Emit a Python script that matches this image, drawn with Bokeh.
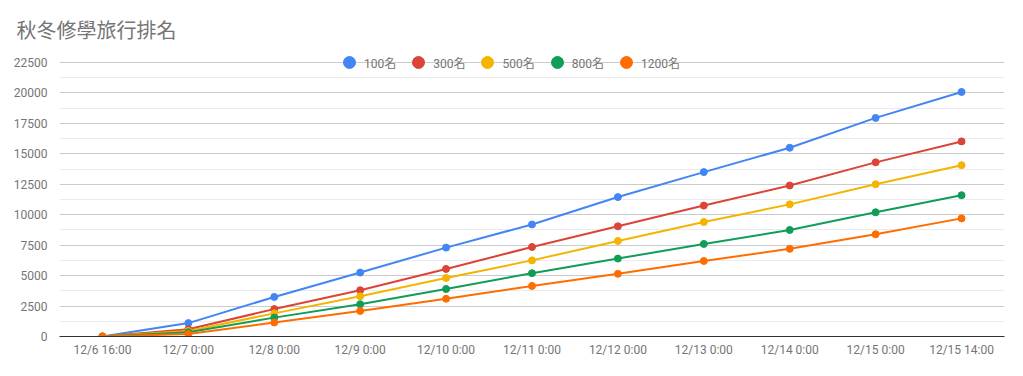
from bokeh.plotting import figure
from bokeh.models import (ColumnDataSource, FactorRange, Range1d, SingleIntervalTicker,
                          Legend, LegendItem)
from bokeh.embed import file_html
from bokeh.resources import INLINE

title_text = "秋冬修學旅行排名"
categories = ["12/6 16:00", "12/7 0:00", "12/8 0:00", "12/9 0:00", "12/10 0:00",
              "12/11 0:00", "12/12 0:00", "12/13 0:00", "12/14 0:00", "12/15 0:00",
              "12/15 14:00"]
series_names = ["100名", "300名", "500名", "800名", "1200名"]
rank_100 = [0, 1100, 3250, 5250, 7300, 9200, 11450, 13500, 15500, 17950, 20080]
rank_300 = [0, 600, 2250, 3800, 5550, 7350, 9050, 10750, 12400, 14300, 16020]
rank_500 = [0, 450, 1900, 3300, 4800, 6250, 7850, 9400, 10850, 12500, 14070]
rank_800 = [0, 350, 1550, 2650, 3900, 5200, 6400, 7600, 8750, 10200, 11600]
rank_1200 = [0, 200, 1150, 2100, 3100, 4150, 5150, 6200, 7200, 8400, 9700]
colors = ["#4285F4", "#DB4437", "#F4B400", "#0F9D58", "#FF6D01"]
y_max = 22500
y_step = 2500

series = [rank_100, rank_300, rank_500, rank_800, rank_1200]

FONT = "Roboto, 'Noto Sans CJK TC', sans-serif"
GRAY = "#757575"

# frame: 286px tall, with the 22500 gridline 274px above the baseline
y_top = y_max * 286 / 274

p = figure(width=1015, height=366, x_range=FactorRange(*categories, range_padding=0),
           y_range=Range1d(0, y_top), output_backend="svg", toolbar_location=None,
           min_border_left=59, min_border_right=11, min_border_top=50, min_border_bottom=30)
p.outline_line_color = None

p.title.text = title_text
p.title.text_font = "Noto Sans CJK TC"
p.title.text_font_size = "20px"
p.title.text_font_style = "normal"
p.title.text_color = GRAY
p.title.offset = -43
p.title.standoff = 14

renderers = []
for name, vals, c in zip(series_names, series, colors):
    src = ColumnDataSource(dict(x=categories, y=vals))
    p.line("x", "y", source=src, line_color=c, line_width=2)
    r = p.scatter("x", "y", source=src, size=7, fill_color=c, line_color=c)
    renderers.append((name, r))

legend = Legend(items=[LegendItem(label=n, renderers=[r]) for n, r in renderers],
                orientation="horizontal", location=(275, 259),
                glyph_width=30, glyph_height=30, label_standoff=0, spacing=7,
                padding=0, margin=0, border_line_color=None, background_fill_alpha=0,
                label_text_font=FONT, label_text_font_size="12px", label_text_color=GRAY,
                label_height=30, label_width=10)
p.add_layout(legend, "center")

p.yaxis.ticker = SingleIntervalTicker(interval=y_step, num_minor_ticks=2)
p.yaxis.axis_line_color = None
p.yaxis.major_tick_line_color = None
p.yaxis.minor_tick_line_color = None
p.yaxis.major_label_standoff = 6
p.yaxis.major_label_text_font = FONT
p.yaxis.major_label_text_font_size = "12px"
p.yaxis.major_label_text_color = GRAY

p.xaxis.axis_line_color = "#333333"
p.xaxis.axis_line_width = 1
p.xaxis.major_tick_line_color = None
p.xaxis.minor_tick_line_color = None
p.xaxis.major_label_standoff = 0
p.xaxis.major_label_text_font = FONT
p.xaxis.major_label_text_font_size = "12px"
p.xaxis.major_label_text_color = GRAY

p.xgrid.grid_line_color = None
p.ygrid.grid_line_color = "#cccccc"
p.ygrid.minor_grid_line_color = "#ebebeb"

open("out.html", "w").write(file_html(p, INLINE))
